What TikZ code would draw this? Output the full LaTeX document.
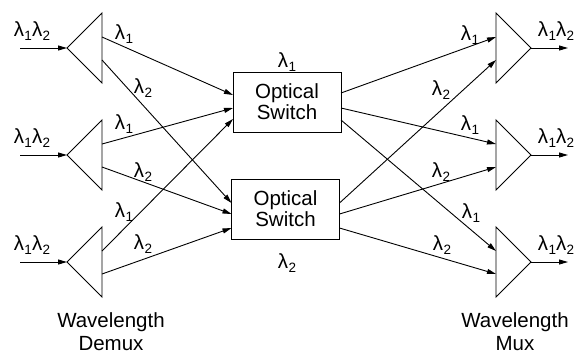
\documentclass[tikz,border=0pt]{standalone}
\usepackage{fontspec}
\setmainfont{Liberation Sans}
\usetikzlibrary{arrows.meta}
\newcommand\lm[1]{λ\kern0.3pt\raisebox{-4pt}{\fontsize{13.5}{14}\selectfont #1}}
\begin{document}
\begin{tikzpicture}[x=1pt,y=-1pt,line width=0.9pt,
  every node/.style={inner sep=0pt,font=\fontsize{20.5}{21}\selectfont},
  arr/.style={-{Triangle[length=9pt,width=5pt]}},
  tri/.style={line join=miter},
  swbox/.style={draw,minimum width=108pt,minimum height=60pt,align=center},
  captxt/.style={align=center,font=\fontsize{20.5}{23}\selectfont}]
\useasboundingbox (0,0) rectangle (577,354);
\foreach \i/\c in {1/48,2/155,3/262}{
  \coordinate (in\i) at (20,\c);
  \coordinate (da\i) at (67,\c);
  \coordinate (dt\i) at (102,\c-35);
  \coordinate (db\i) at (102,\c+35);
  \coordinate (do\i-a) at (102,\c-11);
  \coordinate (do\i-b) at (102,\c+12);
  \coordinate (ma\i) at (531,\c);
  \coordinate (mt\i) at (496,\c-35);
  \coordinate (mb\i) at (496,\c+35);
  \coordinate (mi\i-a) at (496,\c-11);
  \coordinate (mi\i-b) at (496,\c+12);
  \coordinate (out\i) at (568,\c);
  \draw[tri] (da\i) -- (dt\i) -- (db\i) -- cycle;
  \draw[tri] (ma\i) -- (mt\i) -- (mb\i) -- cycle;
  \draw[arr] (in\i) -- (da\i);
  \draw[arr] (ma\i) -- (out\i);
}
\node[swbox] (s1) at (287,102) {Optical\\Switch};
\node[swbox] (s2) at (285.5,209) {Optical\\Switch};
% switch ports
\coordinate (s1i1) at (233,95);  \coordinate (s1i2) at (233,108); \coordinate (s1i3) at (233,119);
\coordinate (s1o1) at (341,93);  \coordinate (s1o2) at (341,108); \coordinate (s1o3) at (341,120);
\coordinate (s2i1) at (231.5,203); \coordinate (s2i2) at (231.5,214); \coordinate (s2i3) at (231.5,228);
\coordinate (s2o1) at (339.5,203); \coordinate (s2o2) at (339.5,214); \coordinate (s2o3) at (339.5,228);
% demux to switches
\draw[arr] (do1-a) -- (s1i1);
\draw[arr] (do2-a) -- (s1i2);
\draw[arr] (do3-a) -- (s1i3);
\draw[arr] (do1-b) -- (s2i1);
\draw[arr] (do2-b) -- (s2i2);
\draw[arr] (do3-b) -- (s2i3);
% switches to mux
\draw[arr] (s1o1) -- (mi1-a);
\draw[arr] (s1o2) -- (mi2-a);
\draw[arr] (s1o3) -- (mi3-a);
\draw[arr] (s2o1) -- (mi1-b);
\draw[arr] (s2o2) -- (mi2-b);
\draw[arr] (s2o3) -- (mi3-b);
% input / output labels
\foreach \i/\c in {1/31,2/138,3/245}{
  \node (li\i) at (32,\c) {\lm{1}\lm{2}};
  \node (lo\i) at (556,\c) {\lm{1}\lm{2}};
}
% line labels
\node (a1) at (124,34) {\lm{1}};
\node (a2) at (143,88) {\lm{2}};
\node (a3) at (124,124) {\lm{1}};
\node (a4) at (143,172) {\lm{2}};
\node (a5) at (124,212) {\lm{1}};
\node (a6) at (143,244) {\lm{2}};
\node (b1) at (470,35) {\lm{1}};
\node (b2) at (441,90) {\lm{2}};
\node (b3) at (470,125) {\lm{1}};
\node (b4) at (441,172) {\lm{2}};
\node (b5) at (471,213) {\lm{1}};
\node (b6) at (442,245) {\lm{2}};
\node (c1) at (287,62) {\lm{1}};
\node (c2) at (287,263) {\lm{2}};
% captions
\node[captxt] (dm) at (111,332) {Wavelength\\Demux};
\node[captxt] (mx) at (515,332) {Wavelength\\Mux};
\end{tikzpicture}
\end{document}
